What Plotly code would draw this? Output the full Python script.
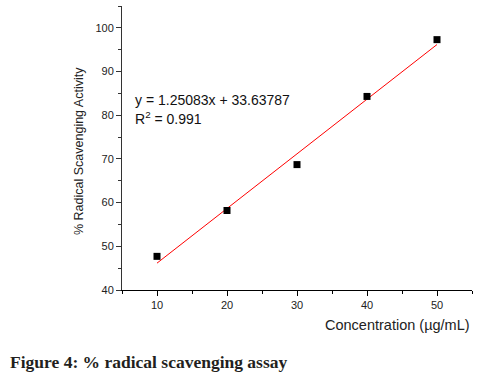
import plotly.graph_objects as go

concentration = [10, 20, 30, 40, 50]
activity = [47.7, 58.2, 68.7, 84.3, 97.3]
slope = 1.25083
intercept = 33.63787
fit_x = [10, 50]
fit_y = [slope * x + intercept for x in fit_x]

equation_text = "y = 1.25083x + 33.63787"
r2_text = "R<sup>2</sup> = 0.991"
x_title = "Concentration (µg/mL)"
y_title = "% Radical Scavenging Activity"
caption = "<b>Figure 4: % radical scavenging assay</b>"

fig = go.Figure()
fig.add_trace(go.Scatter(x=fit_x, y=fit_y, mode="lines",
                         line=dict(color="#ff0000", width=1), showlegend=False))
fig.add_trace(go.Scatter(x=concentration, y=activity, mode="markers",
                         marker=dict(symbol="square", size=7, color="black"),
                         showlegend=False))

axis_font = dict(family="Liberation Sans, Arial", size=11, color="#222")
fig.update_xaxes(range=[5, 55], dtick=10, tick0=0, showline=True, linecolor="black",
                 linewidth=1, ticks="outside", ticklen=5, tickcolor="black",
                 showgrid=False, zeroline=False, tickfont=axis_font, automargin=False,
                 minor=dict(ticks="outside", ticklen=3, dtick=5, tick0=0, tickcolor="black"))
fig.update_yaxes(range=[40, 105], dtick=10, tick0=0, showline=True, linecolor="#333",
                 linewidth=1, ticks="outside", ticklen=5, tickcolor="#333",
                 showgrid=False, zeroline=False, tickfont=axis_font, automargin=False,
                 minor=dict(ticks="outside", ticklen=3, dtick=5, tick0=0, tickcolor="#333"))

fig.add_annotation(xref="paper", yref="paper", x=(79 - 122) / 350, y=(290 - 151) / 284,
                   xanchor="center", yanchor="middle", text=y_title, showarrow=False, textangle=-90,
                   font=dict(family="Liberation Sans, Arial", size=12.5, color="#222"))
fig.add_annotation(xref="paper", yref="paper", x=1, y=(290 - 325) / 284, xanchor="right",
                   yanchor="middle", text=x_title, showarrow=False,
                   font=dict(family="Liberation Sans, Arial", size=14.5, color="#222"))
fig.add_annotation(xref="paper", yref="paper", x=(133 - 122) / 350, y=(290 - 100) / 284,
                   xanchor="left", yanchor="middle", text=equation_text, showarrow=False,
                   font=dict(family="Liberation Sans, Arial", size=14, color="#111"))
fig.add_annotation(xref="paper", yref="paper", x=(133 - 122) / 350, y=(290 - 118) / 284,
                   xanchor="left", yanchor="middle", text=r2_text, showarrow=False,
                   font=dict(family="Liberation Sans, Arial", size=14, color="#111"))
fig.add_annotation(xref="paper", yref="paper", x=(8 - 122) / 350, y=(290 - 362) / 284,
                   xanchor="left", yanchor="middle", text=caption, showarrow=False,
                   font=dict(family="Liberation Serif, DejaVu Serif, serif", size=17.5, color="#231f20"))

fig.update_layout(width=489, height=379, margin=dict(l=122, r=17, t=6, b=89),
                  paper_bgcolor="white", plot_bgcolor="white")
fig.write_html("out.html", post_script="document.body.style.margin='0';",
               config={"displayModeBar": False})
